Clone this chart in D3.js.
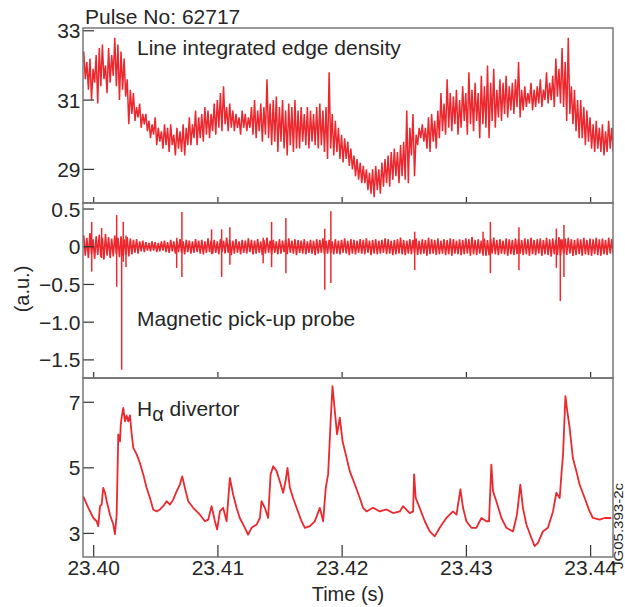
<!DOCTYPE html>
<html>
<head>
<meta charset="utf-8">
<script src="https://cdn.jsdelivr.net/npm/d3@7"></script>
<style>
body { margin: 0; background: #fff; }
text { font-family: "Liberation Sans", Arial, sans-serif; fill: #262626; }
</style>
</head>
<body>
<script>
var width = 625,
    height = 607;

// uniform sampling used for the two noisy traces (upper / lower swing per sample)
var tStart = 23.3992,
    tStep = 0.00025;

var densHi = [32.4,32.1,32.2,31.9,32.3,32.5,32.6,32.0,32.5,32.3,32.8,
              32.6,32.4,32.2, 31.6,31.3,31.2, 30.8,30.9,30.6,30.6,
              30.4,30.3,30.5,30.2,30.1,30.3, 30.2,30.3,30.0,30.2,30.1,30.3,30.2,
              30.5,30.3,30.7,30.5,30.6,30.8,30.7, 30.6,30.9,31.0,31.2,31.4,30.8,30.9,
              30.7,30.6,30.5,30.7,30.6,30.5,30.8, 31.0,30.7,30.9,30.8,31.6,30.9,31.0,
              31.1,30.8,31.0,30.7,30.9,30.8,31.0, 30.7,30.8,30.6,30.8,30.7,30.6,30.8,
              30.9,30.7,30.8,31.8,30.6,30.4,30.2, 30.0,29.9,29.8,29.6,29.4,29.3,29.2,
              29.1,29.0,28.9,29.0,29.1,29.0,29.2, 29.3,29.4,29.5,29.6,29.5,29.7,29.8,
              30.7,30.2,30.6,30.0,30.2,30.3,30.2, 30.5,30.6,30.4,30.7,31.2,30.9,31.6,
              31.2,31.1,31.3,31.0,31.4,31.2,31.8, 31.3,31.5,31.2,31.7,31.4,32.0,31.5,
              31.9,31.3,31.6,31.5,31.7,31.4,31.5, 31.6,32.1,31.3,31.4,31.2,31.5,31.3,
              31.4,31.6,31.3,31.8,31.5,31.7,32.2, 31.9,32.5,32.1,32.8,31.4,31.3,31.0,
              31.0,30.8,30.7,30.5,30.3,30.4,30.2, 30.3,30.1,30.4,30.2];
var densLo = [31.6,31.3,31.0,31.5,30.9,31.4,31.6,31.2,31.5,31.7,31.4,
              31.0,31.3,31.1, 30.3,30.6,30.4, 30.5,30.2,30.3,30.1,
              29.9,30.0,29.7,29.8,29.6,29.7, 29.5,29.7,29.4,29.6,29.5,29.4,29.7,
              29.7,29.9,29.7,29.9,29.8,30.0,29.9, 30.1,30.0,30.2,30.1,30.3,30.1,30.2,
              30.1,30.2,30.0,30.2,30.1,30.2,30.0, 29.9,30.1,29.8,30.0,29.9,29.7,29.8,
              29.5,29.8,29.6,29.4,29.7,29.5,29.6, 29.6,29.8,29.7,29.6,29.8,29.7,29.6,
              29.7,29.5,29.3,29.6,29.4,29.5,29.3, 29.2,29.3,29.1,29.0,28.8,28.7,28.6,
              28.6,28.4,28.3,28.2,28.4,28.3,28.5, 28.6,28.5,28.7,28.8,28.6,28.8,28.7,
              28.6,29.4,28.8,29.7,29.9,29.8,29.6, 29.5,29.8,29.6,29.9,30.1,30.0,30.2,
              30.1,30.3,30.0,30.2,30.4,30.0,30.3, 30.1,30.4,29.9,30.3,30.2,29.9,30.4,
              30.2,30.5,30.4,30.6,30.5,30.7,30.6, 30.8,30.5,30.7,30.8,30.9,30.7,30.8,
              30.9,30.8,31.0,30.9,31.0,30.8,31.1, 30.9,30.8,30.4,30.6,30.3,30.1,29.9,
              29.9,29.7,29.8,29.6,29.5,29.6,29.5, 29.4,29.5,29.6,29.5];

var magHi = [0.15,0.12,0.18,0.10,0.14,0.16,0.12,0.17,0.13,0.11,0.15,0.12,0.14,0.10,0.13,0.11,0.09,0.10,0.07,0.08,0.06,
             0.05,0.07,0.06,0.05,0.07,0.08,0.06,0.09,0.07,0.08,0.10,0.07,0.09,0.08,0.07,0.10,0.08,0.09,0.07,0.11,
             0.08,0.09,0.07,0.10,0.08,0.12,0.09,0.08,0.10,0.07,0.09,0.08,0.11,0.09,0.08,0.10,0.07,0.09,0.12,0.08,
             0.09,0.07,0.10,0.08,0.09,0.11,0.08,0.10,0.09,0.08,0.10,0.07,0.09,0.08,0.10,0.09,0.11,0.08,0.09,0.07,
             0.10,0.08,0.09,0.11,0.08,0.10,0.09,0.08,0.10,0.09,0.11,0.08,0.09,0.10,0.08,0.09,0.11,0.10,0.08,0.09,
             0.10,0.12,0.09,0.08,0.10,0.09,0.11,0.08,0.10,0.09,0.12,0.10,0.09,0.11,0.08,0.10,0.09,0.11,0.10,0.08,
             0.10,0.09,0.11,0.10,0.13,0.09,0.10,0.08,0.11,0.09,0.10,0.12,0.09,0.10,0.08,0.11,0.10,0.09,0.11,0.10,
             0.09,0.11,0.10,0.12,0.09,0.10,0.11,0.09,0.12,0.10,0.11,0.09,0.13,0.10,0.11,0.12,0.10,0.09,0.11,0.10,
             0.12,0.09,0.11,0.10,0.12,0.10,0.11,0.09,0.12,0.10];
var magLo = [-0.12,-0.15,-0.10,-0.16,-0.11,-0.14,-0.17,-0.12,-0.15,-0.13,-0.10,-0.14,-0.12,-0.11,-0.13,-0.10,-0.08,-0.09,-0.06,-0.07,-0.05,
             -0.06,-0.05,-0.07,-0.06,-0.05,-0.07,-0.08,-0.06,-0.09,-0.07,-0.08,-0.10,-0.07,-0.09,-0.08,-0.07,-0.09,-0.10,-0.08,-0.07,
             -0.09,-0.08,-0.10,-0.07,-0.09,-0.08,-0.11,-0.09,-0.08,-0.10,-0.08,-0.09,-0.07,-0.10,-0.09,-0.08,-0.11,-0.09,-0.08,-0.10,
             -0.08,-0.10,-0.09,-0.07,-0.10,-0.08,-0.09,-0.11,-0.08,-0.09,-0.10,-0.08,-0.09,-0.11,-0.09,-0.08,-0.10,-0.09,-0.08,-0.10,
             -0.09,-0.10,-0.08,-0.09,-0.11,-0.09,-0.10,-0.08,-0.09,-0.10,-0.08,-0.11,-0.09,-0.10,-0.09,-0.08,-0.10,-0.09,-0.11,-0.10,
             -0.09,-0.10,-0.11,-0.09,-0.10,-0.08,-0.11,-0.10,-0.09,-0.12,-0.10,-0.09,-0.11,-0.10,-0.09,-0.11,-0.10,-0.12,-0.09,-0.10,
             -0.11,-0.10,-0.09,-0.12,-0.10,-0.11,-0.09,-0.10,-0.12,-0.11,-0.09,-0.10,-0.11,-0.09,-0.10,-0.12,-0.10,-0.11,-0.10,-0.09,
             -0.11,-0.10,-0.12,-0.10,-0.11,-0.09,-0.12,-0.10,-0.11,-0.13,-0.10,-0.11,-0.12,-0.10,-0.11,-0.09,-0.12,-0.11,-0.10,-0.12,
             -0.10,-0.11,-0.12,-0.10,-0.11,-0.12,-0.10,-0.11,-0.09,-0.11];

// [time, top, bottom] of the bursts on the pick-up coil
var magSpikes = [[23.39984,0.33,-0.33],[23.40064,0.25,-0.15],[23.40185,0.42,-0.53],[23.40225,0.10,-1.63],
                 [23.40238,0.33,-0.20],[23.40260,0.15,-0.27],[23.40668,0.12,-0.28],[23.40710,0.46,-0.40],
                 [23.40949,0.23,-0.10],[23.41030,0.23,-0.40],[23.41096,0.26,-0.24],[23.41364,0.12,-0.22],
                 [23.41432,0.33,-0.27],[23.41547,0.38,-0.35],[23.41860,0.24,-0.57],[23.41909,0.47,-0.48],
                 [23.42584,0.20,-0.31],[23.43134,0.20,-0.12],[23.43193,0.33,-0.35],[23.43423,0.26,-0.31],
                 [23.43724,0.24,-0.28],[23.43756,0.10,-0.72],[23.43785,0.29,-0.40]];

var haTime = [23.39916,23.39957,23.39997,23.40024,23.40037,23.40051,23.40064,23.40077,23.40091,23.40105,
              23.40131,23.40158,23.40171,23.40185,23.40198,23.40212,23.40218,23.40225,23.40238,23.40252,
              23.40265,23.40278,23.40292,23.40306,23.40319,23.40346,23.40372,23.40399,23.40426,23.40453,
              23.40479,23.40507,23.40533,23.40560,23.40587,23.40614,23.40640,23.40668,23.40694,23.40713,
              23.40734,23.40761,23.40801,23.40855,23.40895,23.40922,23.40949,23.40976,23.40994,23.41016,
              23.41042,23.41070,23.41096,23.41123,23.41150,23.41176,23.41217,23.41243,23.41271,23.41311,
              23.41338,23.41351,23.41378,23.41404,23.41424,23.41445,23.41472,23.41498,23.41525,23.41544,
              23.41560,23.41579,23.41605,23.41633,23.41673,23.41700,23.41740,23.41780,23.41820,23.41847,
              23.41868,23.41887,23.41906,23.41922,23.41941,23.41959,23.41981,23.42003,23.42029,23.42061,
              23.42102,23.42142,23.42168,23.42196,23.42249,23.42303,23.42357,23.42410,23.42464,23.42490,
              23.42544,23.42571,23.42579,23.42592,23.42624,23.42665,23.42705,23.42745,23.42785,23.42839,
              23.42892,23.42920,23.42952,23.42973,23.43000,23.43040,23.43080,23.43121,23.43161,23.43182,
              23.43201,23.43214,23.43241,23.43282,23.43322,23.43375,23.43407,23.43434,23.43455,23.43483,
              23.43523,23.43549,23.43576,23.43616,23.43656,23.43697,23.43724,23.43751,23.43767,23.43778,
              23.43797,23.43812,23.43831,23.43857,23.43885,23.43911,23.43952,23.43992,23.44018,23.44072,
              23.44112,23.44166];
var haValue = [4.13,3.78,3.47,3.37,3.22,3.83,3.88,4.39,4.24,3.98,
               3.57,3.27,2.98,3.57,6.02,5.81,6.32,6.53,6.83,6.42,
               6.60,6.42,6.60,6.02,5.61,5.41,5.15,4.80,4.39,4.08,
               3.73,3.67,3.73,3.83,3.98,3.88,4.03,4.29,4.49,4.74,
               4.39,3.98,3.78,3.57,3.37,3.42,3.83,3.37,3.12,3.67,
               3.78,3.37,4.69,4.18,3.78,3.47,3.17,2.96,3.17,3.27,
               3.47,3.98,3.78,3.47,4.80,5.05,4.90,4.59,4.24,4.59,
               5.00,4.39,4.08,3.78,3.37,3.17,3.22,3.37,3.78,3.37,
               4.39,4.80,6.32,7.49,6.73,6.02,6.53,5.81,5.41,4.90,
               4.49,4.08,3.78,3.67,3.78,3.67,3.73,3.62,3.67,3.83,
               3.62,3.67,4.80,4.08,3.78,3.37,3.06,2.91,3.17,3.47,
               3.67,3.57,4.34,3.78,3.37,3.17,3.17,3.47,3.37,3.37,
               5.10,4.29,3.98,3.47,3.17,3.06,3.57,4.49,3.78,3.27,
               2.86,2.61,2.71,3.06,3.17,3.67,4.24,4.08,4.90,5.41,
               7.19,6.73,6.22,5.30,4.90,4.49,4.08,3.67,3.47,3.42,
               3.47,3.47];

var timeTicks = [23.40, 23.41, 23.42, 23.43, 23.44];
var densTicks = [29, 31, 33];
var magTicks = [0.5, 0, -0.5, -1.0, -1.5];
var haTicks = [3, 5, 7];

var red = "#ec282e",
    frameColor = "#6e6e6e";

var svg = d3.select("body").append("svg")
    .attr("width", width)
    .attr("height", height);

var x = d3.scaleLinear()
    .domain([23.39914, 23.4418])
    .range([83, 613]);

var panels = [
  {name: "dens", top: 28, bottom: 203, domain: [28.03, 33.08], ticks: densTicks, fmt: function(d){ return d; }, xTickLen: 6},
  {name: "mag", top: 203, bottom: 378, domain: [-1.74, 0.58], ticks: magTicks, fmt: function(d){ return d == 0 ? "0" : d3.format(".1f")(d); }, xTickLen: 6},
  {name: "ha", top: 378, bottom: 557, domain: [2.28, 7.74], ticks: haTicks, fmt: function(d){ return d; }, xTickLen: 12}
];

panels.forEach(function(p)
{
  p.y = d3.scaleLinear().domain(p.domain).range([p.bottom, p.top]);

  svg.append("clipPath")
      .attr("id", "clip-" + p.name)
    .append("rect")
      .attr("x", 83).attr("y", p.top)
      .attr("width", 530).attr("height", p.bottom - p.top);

  p.g = svg.append("g").attr("clip-path", "url(#clip-" + p.name + ")");

  // y ticks (inside) + labels
  svg.selectAll(".yt-" + p.name)
    .data(p.ticks)
    .enter().append("line")
      .attr("x1", 83).attr("x2", 94)
      .attr("y1", function(d){ return p.y(d); })
      .attr("y2", function(d){ return p.y(d); })
      .attr("stroke", "#333").attr("stroke-width", 1.2);

  svg.selectAll(".yl-" + p.name)
    .data(p.ticks)
    .enter().append("text")
      .attr("x", 80.5)
      .attr("y", function(d){ return p.y(d); })
      .attr("dy", "0.36em")
      .attr("text-anchor", "end")
      .attr("font-size", 21)
      .text(p.fmt);

  // time ticks at the bottom of each panel, pointing up
  svg.selectAll(".xt-" + p.name)
    .data(timeTicks)
    .enter().append("line")
      .attr("x1", function(d){ return x(d); })
      .attr("x2", function(d){ return x(d); })
      .attr("y1", p.bottom).attr("y2", p.bottom - p.xTickLen)
      .attr("stroke", "#333").attr("stroke-width", 1.2);
});

function swing(hi, lo)
{
  var pts = [];
  for(var k = 0; k < hi.length; k++)
  {
    pts.push([tStart + k*tStep, hi[k]]);
    pts.push([tStart + k*tStep + tStep/2, lo[k]]);
  }
  return pts;
}

// density
panels[0].g.append("path")
  .datum(swing(densHi, densLo))
  .attr("d", d3.line().x(function(d){ return x(d[0]); }).y(function(d){ return panels[0].y(d[1]); }))
  .attr("fill", "none")
  .attr("stroke", red)
  .attr("stroke-width", 1.5);

// magnetic probe: noise band + bursts
panels[1].g.append("path")
  .datum(swing(magHi, magLo))
  .attr("d", d3.line().x(function(d){ return x(d[0]); }).y(function(d){ return panels[1].y(d[1]); }))
  .attr("fill", "none")
  .attr("stroke", red)
  .attr("stroke-width", 1.6);

panels[1].g.selectAll(".spike")
  .data(magSpikes)
  .enter().append("line")
    .attr("x1", function(d){ return x(d[0]); })
    .attr("x2", function(d){ return x(d[0]); })
    .attr("y1", function(d){ return panels[1].y(d[1]); })
    .attr("y2", function(d){ return panels[1].y(d[2]); })
    .attr("stroke", red)
    .attr("stroke-width", 1.5);

// H-alpha
panels[2].g.append("path")
  .datum(d3.zip(haTime, haValue))
  .attr("d", d3.line().x(function(d){ return x(d[0]); }).y(function(d){ return panels[2].y(d[1]); }))
  .attr("fill", "none")
  .attr("stroke", red)
  .attr("stroke-width", 1.8)
  .attr("stroke-linejoin", "round");

// frames
panels.forEach(function(p)
{
  svg.append("rect")
    .attr("x", 83).attr("y", p.top)
    .attr("width", 530).attr("height", p.bottom - p.top)
    .attr("fill", "none")
    .attr("stroke", frameColor)
    .attr("stroke-width", 1.4);
});

// time labels
svg.selectAll(".xl")
  .data(timeTicks)
  .enter().append("text")
    .attr("x", function(d){ return x(d); })
    .attr("y", 575)
    .attr("text-anchor", "middle")
    .attr("font-size", 21)
    .text(d3.format(".2f"));

svg.append("text")
  .attr("x", 348).attr("y", 601)
  .attr("text-anchor", "middle")
  .attr("font-size", 20)
  .text("Time (s)");

svg.append("text")
  .attr("transform", "translate(29,289) rotate(-90)")
  .attr("text-anchor", "middle")
  .attr("font-size", 20)
  .text("(a.u.)");

svg.append("text")
  .attr("x", 85).attr("y", 24)
  .attr("font-size", 21)
  .text("Pulse No: 62717");

svg.append("text")
  .attr("x", 137).attr("y", 55)
  .attr("font-size", 21)
  .text("Line integrated edge density");

svg.append("text")
  .attr("x", 137).attr("y", 326)
  .attr("font-size", 21)
  .text("Magnetic pick-up probe");

var ha = svg.append("text")
  .attr("x", 137).attr("y", 416)
  .attr("font-size", 21);
ha.append("tspan").text("H");
ha.append("tspan").attr("dy", 5).attr("font-size", 20).text("\u03b1");
ha.append("tspan").attr("dy", -5).text(" divertor");

svg.append("text")
  .attr("transform", "translate(622.5,569) rotate(-90)")
  .attr("font-size", 12.5)
  .attr("textLength", 86)
  .attr("lengthAdjust", "spacingAndGlyphs")
  .text("JG05.393-2c");
</script>
</body>
</html>
